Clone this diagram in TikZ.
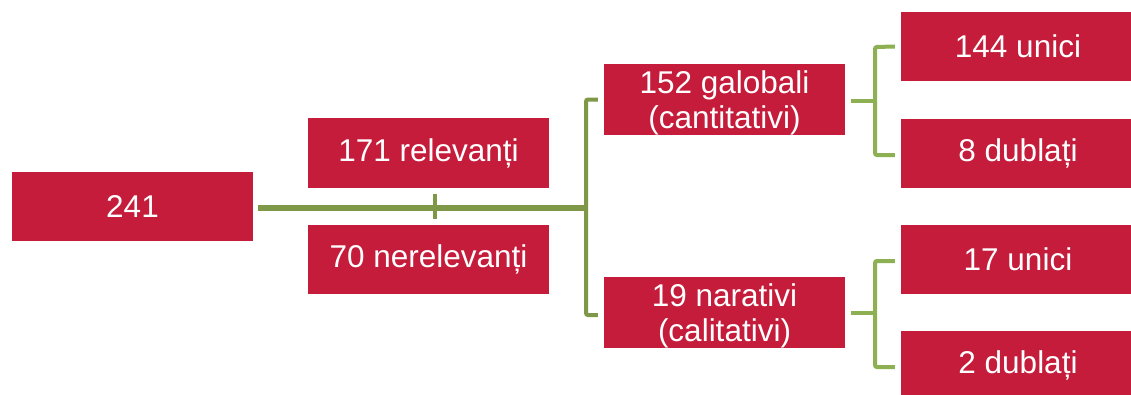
\documentclass[tikz,border=0pt]{standalone}
\usepackage{fontspec}
\setmainfont{Liberation Sans}
\definecolor{boxred}{RGB}{196,28,58}
\definecolor{darkgreen}{RGB}{126,152,71}
\definecolor{lightgreen}{RGB}{140,176,82}
\newcommand{\tallstrut}{\rule{0pt}{30pt}}
\begin{document}
\begin{tikzpicture}[x=1pt,y=-1pt,
  box/.style={fill=boxred, draw=none, text=white, inner sep=0pt, align=center,
    minimum height=69pt, font=\fontsize{31.5}{35}\selectfont},
  wide/.style={box, minimum width=241pt},
  narrow/.style={box, minimum width=230pt},
  mainline/.style={draw=darkgreen, line width=6pt},
  tick/.style={draw=darkgreen, line width=4pt},
  lbracket/.style={draw=darkgreen, line width=4pt, rounded corners=2pt},
  rbracket/.style={draw=lightgreen, line width=4pt, rounded corners=2pt}]
\clip (0,0) rectangle (1131,394);
\fill[white] (0,0) rectangle (1131,394);
\node[wide] (a) at (132.5,206.5) {241};
\node[wide, minimum height=70pt] (r) at (428.5,153) {171 relevanți};
\node[wide] (nr) at (428.5,259.5) {70 nerelevanți};
\node[wide] (g) at (724.5,99.5) {\tallstrut 152 galobali\\(cantitativi)};
\node[wide] (n) at (724.5,312.5) {\tallstrut 19 narativi\\(calitativi)};
\node[narrow] (gu) at (1016,46.5) {\hspace{4pt}144 unici};
\node[narrow] (gd) at (1016,153.5) {\hspace{4pt}8 dublați};
\node[narrow] (nu) at (1016,259.5) {\hspace{4pt}17 unici};
\node[narrow] (nd) at (1016,365.5) {\hspace{4pt}2 dublați};
% left connector
\coordinate (j1) at (588,208);
\coordinate (t1) at (435,194);
\coordinate (t2) at (435,219);
\draw[mainline] ([xshift=5pt]a.east |- j1) -- (j1);
\draw[tick] (t1) -- (t2);
\draw[lbracket] ([xshift=-6pt]g.west) -- (586,99.5) -- (586,315) -- ([xshift=-6pt]n.west |- 0,315);
% right brackets
\draw[rbracket] ([xshift=6pt]g.east |- 0,101) -- (875,101);
\draw[rbracket] ([xshift=-6pt]gu.west) -- (875,47) -- (875,155) -- ([xshift=-6pt]gd.west |- 0,155);
\draw[rbracket] ([xshift=6pt]n.east |- 0,313) -- (875,313);
\draw[rbracket] ([xshift=-6pt]nu.west |- 0,261) -- (875,261) -- (875,367) -- ([xshift=-6pt]nd.west |- 0,367);
\end{tikzpicture}
\end{document}
